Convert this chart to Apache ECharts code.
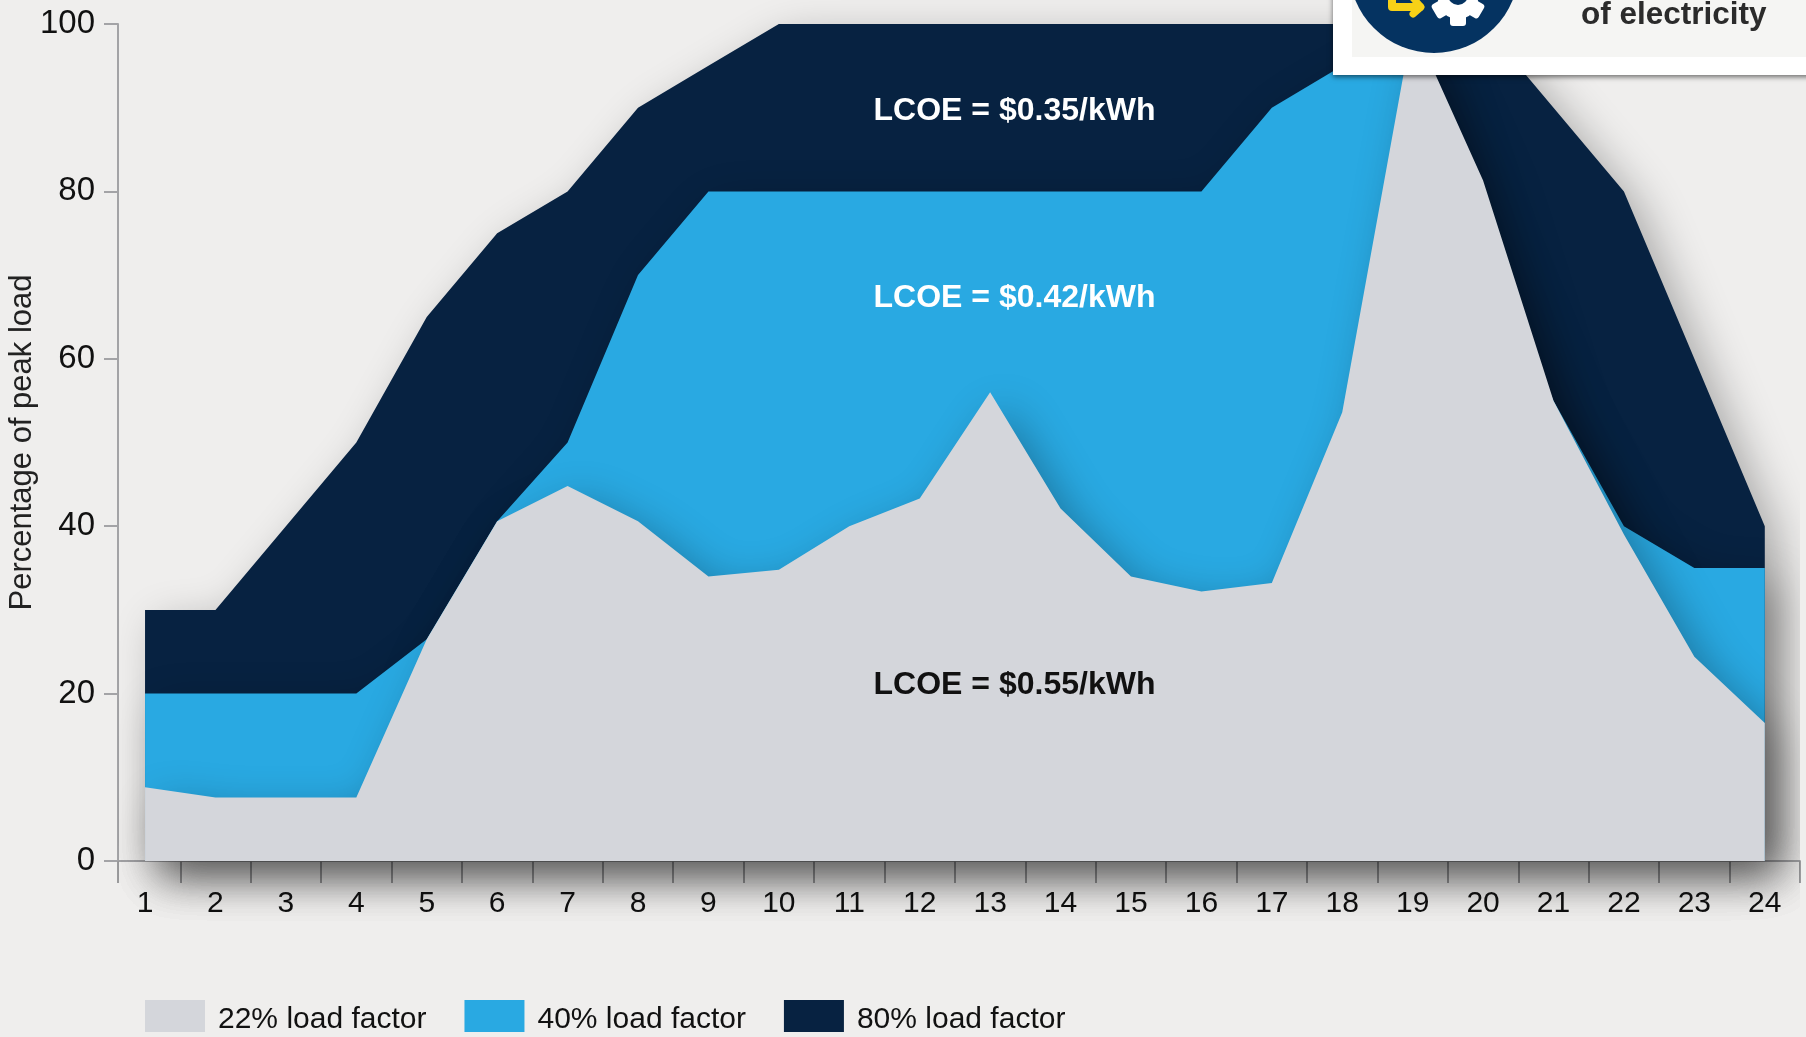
<!DOCTYPE html>
<html>
<head>
<meta charset="utf-8">
<title>Load factor and LCOE</title>
<style>
  html, body { margin: 0; padding: 0; background: #efeeed; }
  #chart { width: 1806px; height: 1037px; }
</style>
<script src="https://cdn.jsdelivr.net/npm/echarts@6/dist/echarts.min.js"></script>
</head>
<body>
<div id="chart"></div>
<script>
var hours = [1, 2, 3, 4, 5, 6, 7, 8, 9, 10, 11, 12, 13, 14, 15, 16, 17, 18, 19, 20, 21, 22, 23, 24];
var load22 = [8.8, 7.6, 7.6, 7.6, 26.5, 40.6, 44.8, 40.6, 34, 34.8, 40, 43.3, 56, 42.1, 34, 32.2, 33.2, 53.6, 100, 81.3, 55, 39, 24.4, 16.5];
var load40 = [20, 20, 20, 20, 26.5, 40.6, 50, 70, 80, 80, 80, 80, 80, 80, 80, 80, 90, 95, 100, 75, 55, 40, 35, 35];
var load80 = [30, 30, 40, 50, 65, 75, 80, 90, 95, 100, 100, 100, 100, 100, 100, 100, 100, 100, 100, 100, 90, 80, 60, 40];
var tickBoundaries = [0.616, 1.5, 2.5, 3.5, 4.5, 5.5, 6.5, 7.5, 8.5, 9.5, 10.5, 11.5, 12.5, 13.5, 14.5, 15.5, 16.5, 17.5, 18.5, 19.5, 20.5, 21.5, 22.5, 23.5, 24.5];
var yTicks = [0, 20, 40, 60, 80, 100];
var names = ['22% load factor', '40% load factor', '80% load factor'];
var lcoeLabels = ['LCOE = $0.35/kWh', 'LCOE = $0.42/kWh', 'LCOE = $0.55/kWh'];

var font = '"Liberation Sans", Arial, sans-serif';
var grey = '#d4d6db', blue = '#29a9e2', navy = '#072241', badge = '#053361';

function pairs(values) {
  return values.map(function(v, i) { return [hours[i], v]; });
}

function areaSeries(name, values, color, z) {
  return {
    name: name,
    type: 'line',
    data: pairs(values),
    z: z,
    clip: false,
    symbol: 'none',
    silent: true,
    itemStyle: { color: color },
    lineStyle: { width: 0 },
    areaStyle: {
      color: color,
      opacity: 1,
      shadowBlur: 44,
      shadowColor: 'rgba(0,0,0,0.3)',
      shadowOffsetX: 14,
      shadowOffsetY: 14
    }
  };
}

function gearTeeth() {
  var teeth = [];
  for (var i = 0; i < 6; i++) {
    teeth.push({
      type: 'rect', z: 103,
      x: 1458, y: -1, originX: 0, originY: 0,
      rotation: i * Math.PI / 3,
      shape: { x: -8, y: -27, width: 16, height: 14, r: 3 },
      style: { fill: '#fff' }
    });
  }
  return teeth;
}

var chart = echarts.init(document.getElementById('chart'));
chart.setOption({
  animation: false,
  backgroundColor: '#efeeed',
  textStyle: { fontFamily: font },
  grid: { left: 118, right: 6, top: 24, bottom: 176, outerBoundsMode: 'none' },
  legend: {
    left: 145, top: 1000,
    padding: 0,
    data: names,
    icon: 'rect',
    itemWidth: 60, itemHeight: 32, itemGap: 38,
    formatter: '{t|{name}}',
    textStyle: {
      rich: { t: { fontFamily: font, fontSize: 30, color: '#111', padding: [8, 0, 0, 8] } }
    },
    selectedMode: false
  },
  xAxis: {
    type: 'value',
    min: 0.616, max: 24.5,
    splitLine: { show: false },
    axisLine: { lineStyle: { color: '#a3a3a6', width: 2 } },
    axisTick: { show: true, customValues: tickBoundaries, length: 22, lineStyle: { color: '#9a9a9c', width: 2 } },
    axisLabel: { customValues: hours, margin: 28, fontFamily: font, fontSize: 30, color: '#111', hideOverlap: false, showMinLabel: true, showMaxLabel: true }
  },
  yAxis: {
    type: 'value',
    min: 0, max: 100,
    interval: 20,
    name: 'Percentage of peak load',
    nameLocation: 'middle',
    nameGap: 80,
    nameMoveOverlap: false,
    nameRotate: 90,
    nameTextStyle: { fontFamily: font, fontSize: 31, color: '#222' },
    splitLine: { show: false },
    axisLine: { show: true, lineStyle: { color: '#a3a3a6', width: 2 } },
    axisTick: { show: true, length: 14, lineStyle: { color: '#a3a3a6', width: 2 } },
    axisLabel: { margin: 23, fontFamily: font, fontSize: 33, color: '#111', padding: [0, 0, 5, 0], formatter: function(v) { return yTicks.indexOf(v) >= 0 ? String(v) : ''; } }
  },
  series: [
    areaSeries(names[2], load80, navy, 2),
    areaSeries(names[1], load40, blue, 3),
    areaSeries(names[0], load22, grey, 4)
  ],
  graphic: [
    { type: 'text', z: 50, x: 1014.5, y: 111, style: { text: lcoeLabels[0], fill: '#fff', font: 'bold 32px ' + font, textAlign: 'center', textVerticalAlign: 'middle' } },
    { type: 'text', z: 50, x: 1014.5, y: 298, style: { text: lcoeLabels[1], fill: '#fff', font: 'bold 32px ' + font, textAlign: 'center', textVerticalAlign: 'middle' } },
    { type: 'text', z: 50, x: 1014.5, y: 685, style: { text: lcoeLabels[2], fill: '#111', font: 'bold 32px ' + font, textAlign: 'center', textVerticalAlign: 'middle' } },

    // inset card cut off by the top right corner
    { type: 'rect', z: 100, shape: { x: 1333, y: -10, width: 490, height: 85 }, style: { fill: '#fff', shadowBlur: 5, shadowOffsetY: 2, shadowColor: 'rgba(0,0,0,0.55)' } },
    { type: 'rect', z: 101, shape: { x: 1352, y: -10, width: 460, height: 67 }, style: { fill: '#f5f5f3' } },
    { type: 'circle', z: 102, shape: { cx: 1434, cy: -32, r: 85 }, style: { fill: badge } },
    { type: 'polyline', z: 103, shape: { points: [[1392, -5], [1392, 7], [1420, 7]] }, style: { stroke: '#f7d117', fill: null, lineWidth: 8, lineCap: 'round', lineJoin: 'round' } },
    { type: 'polyline', z: 103, shape: { points: [[1413, -2], [1421, 7], [1413, 14]] }, style: { stroke: '#f7d117', fill: null, lineWidth: 7, lineCap: 'round', lineJoin: 'round' } }
  ].concat(gearTeeth()).concat([
    { type: 'circle', z: 103, shape: { cx: 1458, cy: -1, r: 20 }, style: { fill: '#fff' } },
    { type: 'circle', z: 104, shape: { cx: 1458, cy: -5, r: 10 }, style: { fill: badge } },
    { type: 'circle', z: 105, shape: { cx: 1458, cy: -5, r: 5 }, style: { fill: '#fff' } },
    { type: 'text', z: 103, x: 1581, y: 15, style: { text: 'of electricity', fill: '#2b2b2b', font: 'bold 31.5px ' + font, textVerticalAlign: 'middle' } }
  ])
});
window.addEventListener('resize', function() { chart.resize(); });
</script>
</body>
</html>
